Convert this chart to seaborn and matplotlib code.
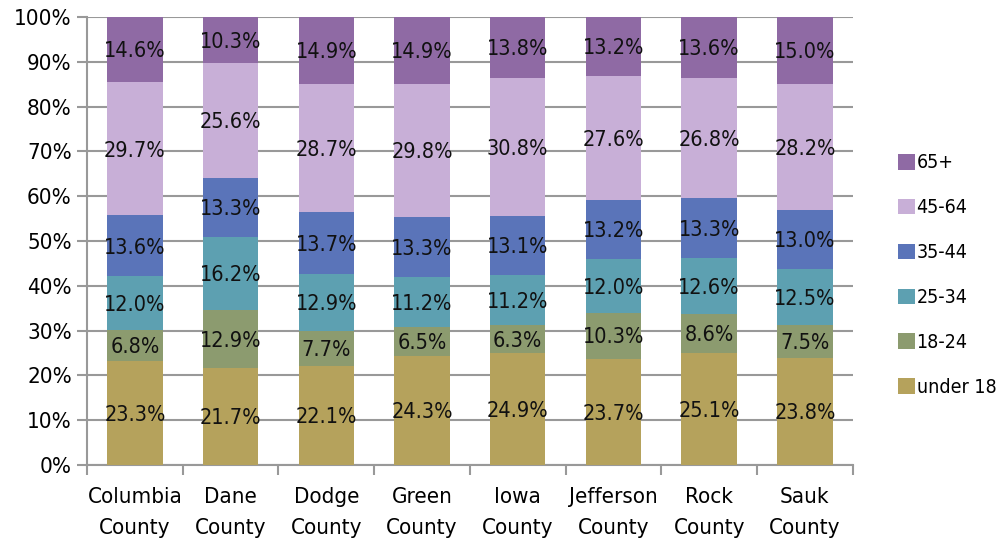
import matplotlib
matplotlib.use("Agg")
import matplotlib.pyplot as plt
from matplotlib.patches import Patch
import numpy as np
import pandas as pd
import seaborn as sns

counties = ["Columbia\nCounty", "Dane\nCounty", "Dodge\nCounty", "Green\nCounty",
            "Iowa\nCounty", "Jefferson\nCounty", "Rock\nCounty", "Sauk\nCounty"]
groups = ["under 18", "18-24", "25-34", "35-44", "45-64", "65+"]

under18 = [23.3, 21.7, 22.1, 24.3, 24.9, 23.7, 25.1, 23.8]
age18_24 = [6.8, 12.9, 7.7, 6.5, 6.3, 10.3, 8.6, 7.5]
age25_34 = [12.0, 16.2, 12.9, 11.2, 11.2, 12.0, 12.6, 12.5]
age35_44 = [13.6, 13.3, 13.7, 13.3, 13.1, 13.2, 13.3, 13.0]
age45_64 = [29.7, 25.6, 28.7, 29.8, 30.8, 27.6, 26.8, 28.2]
age65 = [14.6, 10.3, 14.9, 14.9, 13.8, 13.2, 13.6, 15.0]

colors = ["#B5A25C", "#8C9B6F", "#5DA0B1", "#5A74B9", "#C8AFD7", "#8F6AA4"]

plt.rcParams["font.family"] = ["DejaVu Sans"]
plt.rcParams["font.stretch"] = "condensed"

values = np.array([under18, age18_24, age25_34, age35_44, age45_64, age65])
cum = values.cumsum(axis=0)

fig = plt.figure(figsize=(9.97, 5.47), dpi=100)
ax = fig.add_axes([0.0873, 0.150, 0.768, 0.819])

# draw cumulative totals from the top down so each layer shows its own band
for i in range(len(groups) - 1, -1, -1):
    df = pd.DataFrame({"county": counties, "top": np.minimum(cum[i], 100)})
    sns.barplot(data=df, x="county", y="top", color=colors[i], width=0.58,
                saturation=1, ax=ax, zorder=3, edgecolor="none")

for i in range(len(groups)):
    for j in range(len(counties)):
        mid = cum[i, j] - values[i, j] / 2
        ax.text(j, mid - 0.4, f"{values[i, j]:.1f}%", ha="center", va="center",
                fontsize=15.5, color="#111111", zorder=4)

ax.set_ylim(0, 100)
ax.set_xlim(-0.5, len(counties) - 0.5)
ax.set_yticks(np.arange(0, 101, 10))
ax.set_yticklabels([f"{v}%" for v in range(0, 101, 10)], fontsize=16)
ax.set_xlabel("")
ax.set_ylabel("")
ax.yaxis.grid(True, color="#999999", linewidth=1.5, zorder=0)
ax.set_axisbelow(True)

# category boundary ticks on x
ax.set_xticks(np.arange(-0.5, len(counties), 1), minor=False)
ax.set_xticklabels([])
ax.set_xticks(np.arange(len(counties)), minor=True)
ax.set_xticklabels(counties, minor=True, fontsize=16, linespacing=1.7)
ax.tick_params(axis="x", which="major", length=7, width=1.5, color="#999999", direction="out")
ax.tick_params(axis="x", which="minor", length=0, pad=16)
ax.tick_params(axis="y", length=7, width=1.5, color="#999999", pad=4)

for s in ["top", "right"]:
    ax.spines[s].set_visible(False)
for s in ["left", "bottom"]:
    ax.spines[s].set_color("#999999")
    ax.spines[s].set_linewidth(1.5)

handles = [Patch(facecolor=colors[i], label=groups[i]) for i in range(len(groups) - 1, -1, -1)]
fig.legend(handles=handles, loc="center left", bbox_to_anchor=(0.893, 0.497),
           frameon=False, fontsize=14, labelspacing=1.33, handlelength=0.85,
           handleheight=0.85, handletextpad=0.1, borderaxespad=0)

fig.savefig("out.png", dpi=100, facecolor="white")
